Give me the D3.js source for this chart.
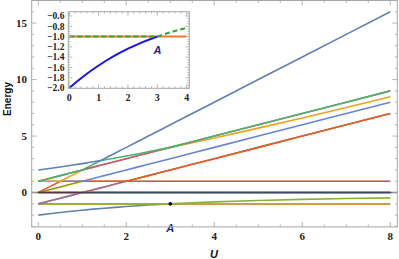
<!DOCTYPE html>
<html><head><meta charset="utf-8">
<script src="https://cdn.jsdelivr.net/npm/d3@7"></script>
<style>body{margin:0;background:#fff}svg{display:block}</style></head>
<body><svg id="c" width="399" height="259"></svg>
<script>
// ---- data (energy levels, sorted per U) ----
const uGrid = [0,0.25,0.5,0.75,1,1.25,1.414,1.5,1.75,2,2.25,2.5,2.75,3,3.5,4,5,6,7,8];
const level1  = [-2,-1.879,-1.766,-1.66,-1.562,-1.47,-1.414,-1.386,-1.308,-1.236,-1.17,-1.108,-1.052,-1,-1,-1,-1,-1,-1,-1];
const level2  = [-1,-1,-1,-1,-1,-1,-1,-1,-1,-1,-1,-1,-1,-1,-1,-1,-1,-1,-1,-1];
const level3  = [-1,-1,-1,-1,-1,-1,-1,-1,-1,-1,-1,-1,-1,-1,-0.908,-0.828,-0.702,-0.606,-0.531,-0.472];
const level4  = [-1,-0.75,-0.5,-0.25,0,0,0,0,0,0,0,0,0,0,0,0,0,0,0,0];
const level5  = [-1,-0.75,-0.5,-0.25,0,0,0,0,0,0,0,0,0,0,0,0,0,0,0,0];
const level6  = [0,0,0,0,0,0,0,0,0,0,0,0,0,0,0,0,0,0,0,0];
const level7  = [0,0,0,0,0,0,0,0,0,0,0,0,0,0,0,0,0,0,0,0];
const level8  = [0,0,0,0,0,0.25,0.414,0.5,0.75,1,1,1,1,1,1,1,1,1,1,1];
const level9  = [0,0,0,0,0,0.25,0.414,0.5,0.75,1,1,1,1,1,1,1,1,1,1,1];
const level10 = [0,0.25,0.5,0.75,1,1,1,1,1,1,1.25,1.5,1.75,2,2.5,3,4,5,6,7];
const level11 = [0,0.5,1,1,1,1,1,1,1,1,1.25,1.5,1.75,2,2.5,3,4,5,6,7];
const level12 = [1,1,1,1,1,1.25,1.414,1.5,1.75,2,2.25,2.5,2.75,3,3.5,4,5,6,7,8];
const level13 = [1,1,1,1.5,2,2.25,2.414,2.5,2.75,3,3.25,3.5,3.75,4,4.408,4.828,5.702,6.606,7.531,8.472];
const level14 = [1,1.25,1.5,1.75,2,2.25,2.414,2.5,2.75,3,3.25,3.5,3.75,4,4.5,5,6,7,8,9];
const level15 = [1,1.25,1.5,1.75,2,2.5,2.828,2.886,3.058,3.236,3.42,3.608,3.802,4,4.5,5,6,7,8,9];
const level16 = [2,2.129,2.266,2.41,2.562,2.72,2.828,3,3.5,4,4.5,5,5.5,6,7,8,10,12,14,16];
const levels = [level1,level2,level3,level4,level5,level6,level7,level8,level9,level10,level11,level12,level13,level14,level15,level16];
const levelColors = ["#5E81B5","#E19C24","#8FB032","#EB6235","#8778B3","#C56E1A","#5D9EC7","#FFBF00","#A5609D","#929600","#E95536","#6685D9","#F89F13","#BC5B80","#47B66D","#5E81B5"];

const xTicksMain = [0,2,4,6,8];
const yTicksMain = [0,5,10,15];
const pointA = {u:3, e:-1, label:"A"};

// inset
const insetBlueU = [0,0.25,0.5,0.75,1,1.25,1.5,1.75,2,2.25,2.5,2.75,3];
const insetBlue  = [-2,-1.879,-1.766,-1.66,-1.562,-1.47,-1.386,-1.308,-1.236,-1.17,-1.108,-1.052,-1];
const insetOrangeU = [0,4];
const insetOrange  = [-1,-1];
const insetGreenU = [0,3,3.25,3.5,3.75,4];
const insetGreen  = [-1,-1,-0.952,-0.908,-0.866,-0.828];
const insetXTicks = [0,1,2,3,4];
const insetYTicks = [-2.0,-1.8,-1.6,-1.4,-1.2,-1.0,-0.8,-0.6];

// ---- drawing ----
const svg = d3.select("#c");
const frameCol = "#a6a6a6";
const labFont = "'Liberation Serif','Times New Roman',serif";

const x = d3.scaleLinear().domain([-0.151, 8.16]).range([31.7, 397.3]);
const y = d3.scaleLinear().domain([-3.04, 17.0]).range([226.9, 0.5]);

const g = svg.append("g");
const line = d3.line().x(d=>x(d[0])).y(d=>y(d[1]));
levels.forEach((lv,i)=>{
  g.append("path").attr("d", line(uGrid.map((u,j)=>[u, lv[j]])))
   .attr("fill","none").attr("stroke",levelColors[i]).attr("stroke-width",1.6)
   .attr("stroke-linejoin","round");
});
// zero axis line
g.append("line").attr("x1",x.range()[0]).attr("x2",x.range()[1]).attr("y1",y(0)).attr("y2",y(0))
 .attr("stroke","rgba(20,25,30,0.6)").attr("stroke-width",1.5);

// point A
g.append("circle").attr("cx",x(pointA.u)).attr("cy",y(pointA.e)).attr("r",1.8).attr("fill","#000");
g.append("text").attr("x",x(pointA.u)).attr("y",y(pointA.e)+28).attr("text-anchor","middle")
 .attr("font-family","'Liberation Sans',Arial,sans-serif").attr("font-weight","bold").attr("font-style","italic")
 .attr("font-size",11).attr("fill","#1c2a8c").text(pointA.label);

// frame
function frame(sel, xs, ys, xMaj, xMin, yMaj, yMin, majLen, minLen){
  const [x0,x1] = xs.range(), [y0,y1] = ys.range();
  sel.append("rect").attr("x",x0).attr("y",y1).attr("width",x1-x0).attr("height",y0-y1)
    .attr("fill","none").attr("stroke",frameCol).attr("stroke-width",1);
  const t = sel.append("g").attr("stroke",frameCol).attr("stroke-width",0.8);
  xMin.forEach(v=>{ const len = xMaj.some(m=>Math.abs(m-v)<1e-6)?majLen:minLen;
    t.append("line").attr("x1",xs(v)).attr("x2",xs(v)).attr("y1",y0).attr("y2",y0-len);
    t.append("line").attr("x1",xs(v)).attr("x2",xs(v)).attr("y1",y1).attr("y2",y1+len);});
  yMin.forEach(v=>{ const len = yMaj.some(m=>Math.abs(m-v)<1e-6)?majLen:minLen;
    t.append("line").attr("y1",ys(v)).attr("y2",ys(v)).attr("x1",x0).attr("x2",x0+len);
    t.append("line").attr("y1",ys(v)).attr("y2",ys(v)).attr("x1",x1).attr("x2",x1-len);});
}
frame(svg, x, y, xTicksMain, d3.range(0,8.01,0.5), yTicksMain, d3.range(-3,17.01,1), 5, 2.5);

xTicksMain.forEach(v=>svg.append("text").attr("x",x(v)).attr("y",240).attr("text-anchor","middle")
  .attr("font-family",labFont).attr("font-weight","bold").attr("font-size",11).attr("fill","#222").text(v));
yTicksMain.forEach(v=>svg.append("text").attr("x",27).attr("y",y(v)+3.8).attr("text-anchor","end")
  .attr("font-family",labFont).attr("font-weight","bold").attr("font-size",11).attr("fill","#222").text(v));

svg.append("text").attr("transform","translate(11,99) rotate(-90)").attr("text-anchor","middle")
  .attr("font-family","'Liberation Sans',Arial,sans-serif").attr("font-weight","bold").attr("font-size",10)
  .attr("fill","#111").text("Energy");
svg.append("text").attr("x",214).attr("y",258).attr("text-anchor","middle")
  .attr("font-family","'Liberation Sans',Arial,sans-serif").attr("font-weight","bold").attr("font-style","italic")
  .attr("font-size",11).attr("fill","#111").text("U");

// ---- inset ----
const ix = d3.scaleLinear().domain([-0.034, 4.09]).range([68.3, 189.3]);
const iy = d3.scaleLinear().domain([-2.006, -0.516]).range([88.3, 11.7]);
const ig = svg.append("g");
ig.append("rect").attr("x",40).attr("y",6).attr("width",153).attr("height",97).attr("fill","#fff");
const iline = d3.line().x(d=>ix(d[0])).y(d=>iy(d[1]));
ig.append("path").attr("d",iline(insetOrangeU.map((u,j)=>[u,insetOrange[j]])))
  .attr("fill","none").attr("stroke","#EE7B2C").attr("stroke-width",2);
ig.append("path").attr("d",iline(insetBlueU.map((u,j)=>[u,insetBlue[j]])))
  .attr("fill","none").attr("stroke","#1414F5").attr("stroke-width",2);
ig.append("path").attr("d",iline(insetGreenU.map((u,j)=>[u,insetGreen[j]])))
  .attr("fill","none").attr("stroke","#2EA82E").attr("stroke-width",2).attr("stroke-dasharray","5,3");
ig.append("text").attr("x",157.5).attr("y",54).attr("text-anchor","middle")
  .attr("font-family","'Liberation Sans',Arial,sans-serif").attr("font-weight","bold").attr("font-style","italic")
  .attr("font-size",11).attr("fill","#1c2a8c").text(pointA.label);
frame(ig, ix, iy, insetXTicks, d3.range(0,4.01,0.2), insetYTicks, d3.range(-2,-0.5,0.05), 4, 2);
insetXTicks.forEach(v=>ig.append("text").attr("x",ix(v)).attr("y",100.5).attr("text-anchor","middle")
  .attr("font-family",labFont).attr("font-weight","bold").attr("font-size",10).attr("fill","#222").text(v));
insetYTicks.forEach(v=>ig.append("text").attr("x",64.5).attr("y",iy(v)+3.3).attr("text-anchor","end")
  .attr("font-family",labFont).attr("font-weight","bold").attr("font-size",9.5).attr("fill","#222")
  .text(d3.format(".1f")(v).replace("-","\u2212")));
</script></body></html>
